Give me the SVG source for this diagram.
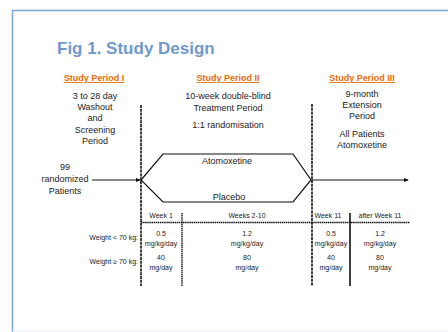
<svg xmlns="http://www.w3.org/2000/svg" width="448" height="332" viewBox="0 0 448 332">
  <style>
    .t { font-family: "Liberation Sans", Arial, sans-serif; font-size: 9px; fill: #222; text-anchor: middle; }
    .h { font-family: "Liberation Sans", Arial, sans-serif; font-size: 9px; font-weight: bold; fill: #E46C0A; text-anchor: middle; text-decoration: underline; }
    .s { font-family: "Liberation Sans", Arial, sans-serif; font-size: 7px; fill: #222; text-anchor: middle; }
    .sr { font-family: "Liberation Sans", Arial, sans-serif; font-size: 7px; fill: #222; text-anchor: end; }
    .ln { stroke: #111; stroke-width: 1.2; fill: none; }
    .dash { stroke: #111; stroke-width: 1.6; stroke-dasharray: 3 0.8; fill: none; }
    .dot { stroke: #111; stroke-width: 1.4; stroke-dasharray: 1.5 0.6; fill: none; }
  </style>
  <defs>
    <marker id="arr" viewBox="0 0 6 6" refX="5" refY="3" markerWidth="5" markerHeight="5" orient="auto" markerUnits="userSpaceOnUse">
      <path d="M0,0.5 L6,3 L0,5.5 z" fill="#111"/>
    </marker>
  </defs>
  <rect width="448" height="332" fill="#fff"/>
  <!-- frame -->
  <path d="M12.5,332 V10.5 H448" fill="none" stroke="#7EA3D3" stroke-width="1.5"/>
  <line x1="12.5" y1="331" x2="448" y2="331" stroke="#E8EEF6" stroke-width="1"/>

  <text x="57" y="54" font-family="'Liberation Sans', Arial, sans-serif" font-size="17" font-weight="bold" fill="#6F99CC">Fig 1. Study Design</text>

  <g id="period1">
    <text class="h" x="94" y="81">Study Period I</text>
    <text class="t" x="95" y="99">3 to 28 day</text>
    <text class="t" x="95" y="110">Washout</text>
    <text class="t" x="95" y="121">and</text>
    <text class="t" x="95" y="133">Screening</text>
    <text class="t" x="95" y="144">Period</text>
  </g>
  <g id="period2">
    <text class="h" x="228" y="81">Study Period II</text>
    <text class="t" x="228" y="99">10-week double-blind</text>
    <text class="t" x="228" y="111">Treatment Period</text>
    <text class="t" x="228" y="128">1:1 randomisation</text>
  </g>
  <g id="period3">
    <text class="h" x="362" y="81">Study Period III</text>
    <text class="t" x="362" y="97">9-month</text>
    <text class="t" x="362" y="108">Extension</text>
    <text class="t" x="362" y="119">Period</text>
    <text class="t" x="362" y="137">All Patients</text>
    <text class="t" x="362" y="148">Atomoxetine</text>
  </g>
  <g id="patients">
    <text class="t" x="65" y="170">99</text>
    <text class="t" x="65" y="182">randomized</text>
    <text class="t" x="65" y="194">Patients</text>
  </g>
  <g id="arms">
    <path class="ln" d="M141,180 L163,154 H293 L311,180 L293,202 H163 Z"/>
    <text class="t" x="227" y="164">Atomoxetine</text>
    <text class="t" x="229" y="200">Placebo</text>
  </g>

  <g id="connectors">
    <line class="dash" x1="141" y1="105" x2="141" y2="286"/>
    <line class="dash" x1="312" y1="104" x2="312" y2="286"/>
    <line class="ln" x1="92" y1="180" x2="140" y2="180" marker-end="url(#arr)"/>
    <line class="ln" x1="312" y1="180" x2="408" y2="180" marker-end="url(#arr)"/>
    <line class="dot" x1="182" y1="213" x2="182" y2="286"/>
    <line x1="350" y1="213" x2="350" y2="286" stroke="#111" stroke-width="1.6"/>
    <line class="dot" x1="141" y1="222.5" x2="410" y2="222.5"/>
  </g>

  <g id="dosing">
    <text class="s" x="161" y="218">Week 1</text>
    <text class="s" x="247" y="218">Weeks 2-10</text>
    <text class="s" x="328" y="218">Week 11</text>
    <text class="s" x="380" y="218">after Week 11</text>

    <text class="sr" x="138" y="240">Weight &lt; 70 kg:</text>
    <text class="sr" x="138" y="264">Weight ≥ 70 kg:</text>

    <text class="s" x="161" y="236">0.5</text>
    <text class="s" x="161" y="246">mg/kg/day</text>
    <text class="s" x="161" y="260">40</text>
    <text class="s" x="161" y="270">mg/day</text>

    <text class="s" x="247" y="236">1.2</text>
    <text class="s" x="247" y="246">mg/kg/day</text>
    <text class="s" x="247" y="260">80</text>
    <text class="s" x="247" y="270">mg/day</text>

    <text class="s" x="331" y="236">0.5</text>
    <text class="s" x="331" y="246">mg/kg/day</text>
    <text class="s" x="331" y="260">40</text>
    <text class="s" x="331" y="270">mg/day</text>

    <text class="s" x="380" y="236">1.2</text>
    <text class="s" x="380" y="246">mg/kg/day</text>
    <text class="s" x="380" y="260">80</text>
    <text class="s" x="380" y="270">mg/day</text>
  </g>
</svg>
